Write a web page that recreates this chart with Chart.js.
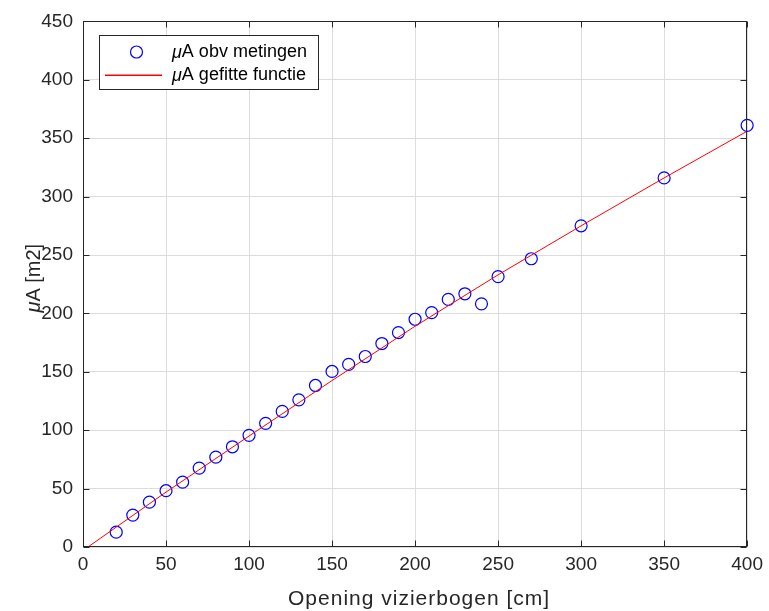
<!DOCTYPE html>
<html>
<head>
<meta charset="utf-8">
<script src="https://cdn.jsdelivr.net/npm/chart.js@4.4.1/dist/chart.umd.min.js"></script>
<style>
  html, body { margin: 0; padding: 0; background: #ffffff; }
  canvas { display: block; }
</style>
</head>
<body>
<canvas id="chart" width="769" height="611"></canvas>
<script>
// Measured aperture (opening) in cm and the corresponding μA values
const openingCm = [20, 30, 40, 50, 60, 70, 80, 90, 100, 110, 120, 130, 140, 150, 160, 170, 180, 190, 200, 210, 220, 230, 240, 250, 270, 300, 350, 400];
const muAMeasured = [12.7, 27.3, 38.4, 48.2, 55.5, 67.5, 76.9, 85.8, 95.6, 105.9, 116.1, 126, 138.3, 150.3, 156.3, 163.1, 174.2, 183.6, 195, 200.7, 212, 216.8, 208.2, 231.5, 246.8, 275, 316, 361];

// Fitted curve, sampled along the opening range
const fitOpeningCm = [3, 50, 100, 150, 200, 250, 300, 350, 400];
const muAFitted = [0, 47, 95, 142.5, 189, 233, 275, 316, 356];

// Axis ticks
const xTickValues = [0, 50, 100, 150, 200, 250, 300, 350, 400];
const yTickValues = [0, 50, 100, 150, 200, 250, 300, 350, 400, 450];

const seriesLabels = ['μA obv metingen', 'μA gefitte functie'];
const xTitle = 'Opening vizierbogen [cm]';
const yTitle = 'μA [m2]';

const FONT = '"Liberation Sans", Arial, Helvetica, sans-serif';
const AXIS_COLOR = '#262626';
const GRID_COLOR = '#dcdcdc';
const MARKER_COLOR = '#0000ff';
const LINE_COLOR = '#ff0000';

// Split text so that the Greek mu is set in italics, like a TeX label
function segments(text) {
  const out = [];
  for (const ch of text) {
    const it = ch === 'μ';
    const last = out[out.length - 1];
    if (last && last.it === it) last.t += ch; else out.push({ t: ch, it });
  }
  return out;
}

function drawRich(ctx, text, x, y, size, align, color, spacing) {
  const segs = segments(text);
  const fontFor = s => (s.it ? 'italic ' : '') + size + 'px ' + FONT;
  ctx.letterSpacing = (spacing || 0) + 'px';
  let w = 0;
  segs.forEach(s => { ctx.font = fontFor(s); s.w = ctx.measureText(s.t).width; w += s.w; });
  let cx = align === 'center' ? x - w / 2 : x;
  ctx.textBaseline = 'middle';
  ctx.textAlign = 'left';
  ctx.fillStyle = color;
  segs.forEach(s => { ctx.font = fontFor(s); ctx.fillText(s.t, cx, y); cx += s.w; });
  ctx.letterSpacing = '0px';
}

// Box frame, inward tick marks, axis titles and legend
const axesDecor = {
  id: 'axesDecor',
  afterDraw(chart) {
    const { ctx, chartArea: a, scales: { x, y } } = chart;
    ctx.save();

    ctx.strokeStyle = AXIS_COLOR;
    ctx.lineWidth = 1;
    const L = Math.round(a.left) + 0.5, R = Math.round(a.right) - 0.5;
    const T = Math.round(a.top) + 0.5, B = Math.round(a.bottom) - 0.5;
    ctx.strokeRect(L, T, R - L, B - T);

    const tick = 6;
    ctx.beginPath();
    xTickValues.forEach(v => {
      const px = Math.round(x.getPixelForValue(v)) + 0.5;
      ctx.moveTo(px, B); ctx.lineTo(px, B - tick);
      ctx.moveTo(px, T); ctx.lineTo(px, T + tick);
    });
    yTickValues.forEach(v => {
      const py = Math.round(y.getPixelForValue(v)) + 0.5;
      ctx.moveTo(L, py); ctx.lineTo(L + tick, py);
      ctx.moveTo(R, py); ctx.lineTo(R - tick, py);
    });
    ctx.stroke();

    // Axis titles
    drawRich(ctx, xTitle, (a.left + a.right) / 2 + 4, 599, 21, 'center', AXIS_COLOR, 1);
    ctx.save();
    ctx.translate(34, (a.top + a.bottom) / 2 - 6);
    ctx.rotate(-Math.PI / 2);
    drawRich(ctx, yTitle, 0, 0, 20, 'center', AXIS_COLOR, 0);
    ctx.restore();

    // Legend
    const bx = 99.5, by = 35.5, bw = 219, bh = 54;
    ctx.fillStyle = '#ffffff';
    ctx.fillRect(bx, by, bw, bh);
    ctx.strokeStyle = AXIS_COLOR;
    ctx.lineWidth = 1;
    ctx.strokeRect(bx, by, bw, bh);

    ctx.strokeStyle = MARKER_COLOR;
    ctx.lineWidth = 1.2;
    ctx.beginPath();
    ctx.arc(136.5, 52, 6, 0, Math.PI * 2);
    ctx.stroke();

    ctx.beginPath();
    ctx.strokeStyle = LINE_COLOR;
    ctx.lineWidth = 1.5;
    ctx.moveTo(105, 75.25);
    ctx.lineTo(162, 75.25);
    ctx.stroke();

    drawRich(ctx, seriesLabels[0], 172, 52.5, 18, 'left', '#000000', 0);
    drawRich(ctx, seriesLabels[1], 172, 75.5, 18, 'left', '#000000', 0);

    ctx.restore();
  }
};

const measuredPoints = openingCm.map((v, i) => ({ x: v, y: muAMeasured[i] }));
const fittedPoints = fitOpeningCm.map((v, i) => ({ x: v, y: muAFitted[i] }));

new Chart(document.getElementById('chart'), {
  type: 'scatter',
  data: {
    datasets: [
      {
        label: seriesLabels[0],
        data: measuredPoints,
        pointStyle: 'circle',
        pointRadius: 6,
        pointHoverRadius: 6,
        pointBorderWidth: 1.2,
        borderColor: MARKER_COLOR,
        backgroundColor: 'rgba(0,0,0,0)',
        showLine: false,
        clip: false,
        order: 1
      },
      {
        label: seriesLabels[1],
        data: fittedPoints,
        showLine: true,
        borderColor: LINE_COLOR,
        borderWidth: 1,
        pointRadius: 0,
        pointHoverRadius: 0,
        tension: 0,
        fill: false,
        order: 0
      }
    ]
  },
  options: {
    responsive: false,
    animation: false,
    layout: { padding: { top: 20, right: 19, left: 0, bottom: 0 } },
    plugins: { legend: { display: false }, tooltip: { enabled: false } },
    scales: {
      x: {
        type: 'linear',
        min: 0,
        max: 400,
        afterBuildTicks: s => { s.ticks = xTickValues.map(v => ({ value: v })); },
        afterFit: s => { s.height = 64; },
        ticks: {
          font: { family: FONT, size: 19 },
          color: AXIS_COLOR,
          padding: 6,
          maxRotation: 0,
          autoSkip: false
        },
        grid: { color: GRID_COLOR, drawTicks: false, lineWidth: 1 },
        border: { display: false }
      },
      y: {
        type: 'linear',
        min: 0,
        max: 450,
        afterBuildTicks: s => { s.ticks = yTickValues.map(v => ({ value: v })); },
        afterFit: s => { s.width = 83; },
        ticks: {
          font: { family: FONT, size: 19 },
          color: AXIS_COLOR,
          padding: 10,
          autoSkip: false
        },
        grid: { color: GRID_COLOR, drawTicks: false, lineWidth: 1 },
        border: { display: false }
      }
    }
  },
  plugins: [axesDecor]
});
</script>
</body>
</html>
